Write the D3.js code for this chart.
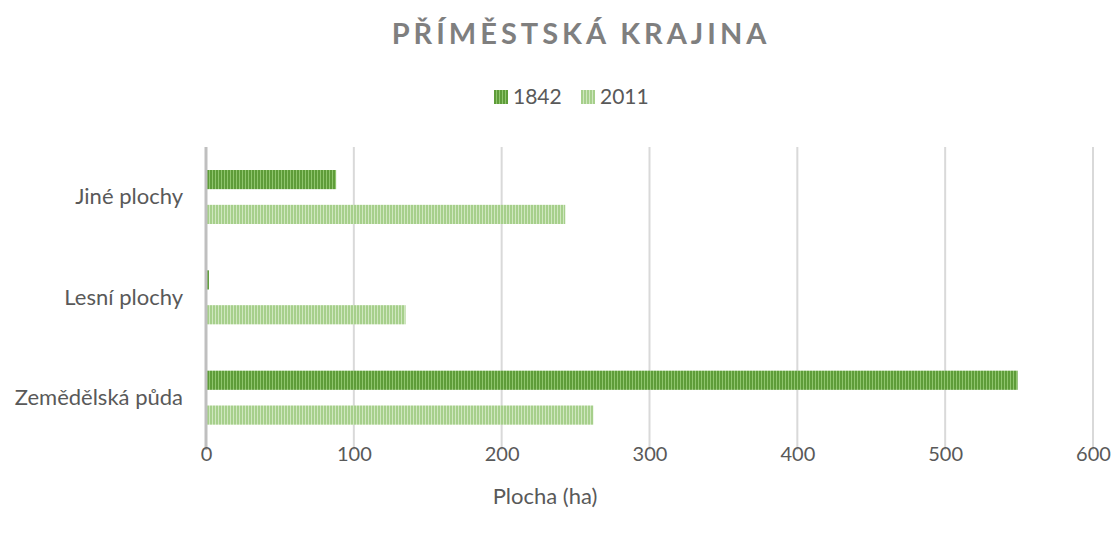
<html>
  <head>
    <style>
      body { margin: 0; background: #fff; }
      text { font-family: Lato, "Open Sans", sans-serif; }
    </style>
  </head>
  <body>
    <script src="https://d3js.org/d3.v7.min.js"></script>
    <script>
    //dimensions specs
    var width = 1113, height = 535;
    var margin = {top: 147, right: 20, bottom: 87, left: 206};

    //chart data
    var categories = ["Jiné plochy", "Lesní plochy", "Zemědělská půda"];
    var series = ["1842", "2011"];
    var values1842 = [88, 2, 549];
    var values2011 = [243, 135, 262];
    var xTicks = [0, 100, 200, 300, 400, 500, 600];

    var rows = categories.map(function(c, i) {
      return {cat: c, vals: [values1842[i], values2011[i]]};
    });

    var svg = d3.select("body")
        .append("svg")
        .attr("width", width)
        .attr("height", height);

    //striped fills like the excel "narrow vertical" pattern
    var defs = svg.append("defs");
    var pats = [
      {id: "p1842", bg: "#8fc56d", fg: "#5e9c39"},
      {id: "p2011", bg: "#cfe7bf", fg: "#a6cf8b"}
    ];
    pats.forEach(function(p) {
      var pat = defs.append("pattern")
          .attr("id", p.id)
          .attr("patternUnits", "userSpaceOnUse")
          .attr("width", 3).attr("height", 3);
      pat.append("rect").attr("width", 3).attr("height", 3).attr("fill", p.bg);
      pat.append("rect").attr("width", 2).attr("height", 3).attr("fill", p.fg);
    });

    var x = d3.scaleLinear().domain([0, 600]).range([margin.left, 1093]);
    var y = d3.scaleBand().domain(categories).range([margin.top, 448]).paddingInner(0).paddingOuter(0);
    var y2 = d3.scaleBand().domain(series).range([23, 77]).paddingInner(0.45);

    //gridlines
    svg.append("g")
      .selectAll("line")
      .data(xTicks.slice(1))
      .enter().append("line")
        .attr("x1", function(d) { return x(d); })
        .attr("x2", function(d) { return x(d); })
        .attr("y1", margin.top)
        .attr("y2", 450)
        .attr("stroke", "#d9d9d9")
        .attr("stroke-width", 2);

    //bars
    var groups = svg.append("g")
      .selectAll("g")
      .data(rows)
      .enter().append("g")
        .attr("transform", function(d) { return "translate(0," + y(d.cat) + ")"; });

    groups.selectAll("rect")
      .data(function(d) { return d.vals.map(function(v, i) { return {s: series[i], v: v}; }); })
      .enter().append("rect")
        .attr("x", x(0) + 1)
        .attr("y", function(d) { return y2(d.s); })
        .attr("width", function(d) { return x(d.v) - x(0) - 1; })
        .attr("height", y2.bandwidth())
        .attr("fill", function(d) { return "url(#p" + d.s + ")"; });

    //left axis line
    svg.append("line")
        .attr("x1", x(0)).attr("x2", x(0))
        .attr("y1", margin.top).attr("y2", 450)
        .attr("stroke", "#bfbfbf")
        .attr("stroke-width", 3);

    //x axis tick labels
    var xAxis = d3.axisBottom(x).tickValues(xTicks).tickSize(0).tickPadding(0);
    var gx = svg.append("g").attr("transform", "translate(0,447)").call(xAxis);
    gx.select(".domain").remove();
    gx.selectAll("text")
        .attr("dy", "0")
        .attr("y", 14)
        .style("font-size", "20px")
        .style("font-family", "Lato, sans-serif")
        .attr("fill", "#595959");

    //category labels
    var yAxis = d3.axisLeft(y).tickSize(0).tickPadding(0);
    var gy = svg.append("g").attr("transform", "translate(183,0)").call(yAxis);
    gy.select(".domain").remove();
    gy.selectAll("text")
        .style("font-size", "22px")
        .style("font-family", "Lato, sans-serif")
        .attr("fill", "#595959");

    //title
    svg.append("text")
        .attr("x", 581).attr("y", 44)
        .attr("text-anchor", "middle")
        .style("font-size", "29px")
        .style("font-weight", "bold")
        .style("letter-spacing", "4px")
        .attr("fill", "#7f7f7f")
        .text("PŘÍMĚSTSKÁ KRAJINA");

    //legend
    var legend = svg.append("g").attr("transform", "translate(494,89)");
    var lx = [0, 87];
    series.forEach(function(s, i) {
      legend.append("rect")
          .attr("x", lx[i]).attr("y", 1)
          .attr("width", 14).attr("height", 14)
          .attr("fill", "url(#p" + s + ")");
      legend.append("text")
          .attr("x", lx[i] + 19).attr("y", 15)
          .style("font-size", "21px")
          .attr("fill", "#595959")
          .text(s);
    });

    //axis title
    svg.append("text")
        .attr("x", 545).attr("y", 504)
        .attr("text-anchor", "middle")
        .style("font-size", "22px")
        .attr("fill", "#595959")
        .text("Plocha (ha)");
    </script>
  </body>
</html>
